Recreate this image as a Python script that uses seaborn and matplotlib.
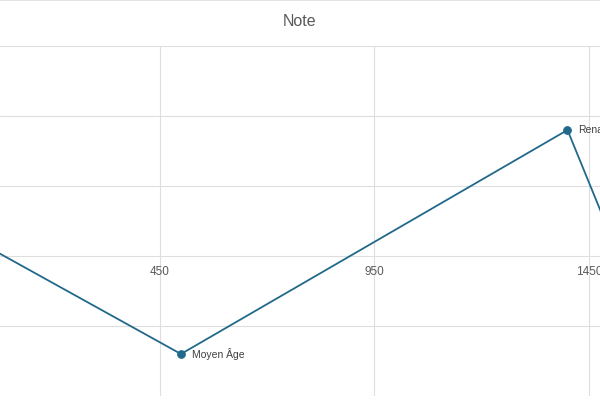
import matplotlib
matplotlib.use("Agg")
import matplotlib.pyplot as plt
from matplotlib.lines import Line2D
import seaborn as sns
import pandas as pd

# Periods, their reference year and the score given to each
periods = ["Antiquité", "Moyen Âge", "Renaissance", "Époque moderne"]
years = [-500, 500, 1400, 1600]
notes = [2.0, -1.4, 1.8, -1.2]
x_ticks = [450, 950, 1450]
title = "Note"

line_color = "#21698a"
grid_color = "#dedede"
text_color = "#595959"

sns.set_theme(style="white")
plt.rcParams["font.family"] = ["Liberation Sans", "DejaVu Sans"]

df = pd.DataFrame({"periode": periods, "annee": years, "note": notes})

fig = plt.figure(figsize=(6.0, 4.03), dpi=100)
ax = fig.add_axes([0.0, 1 - 396 / 403, 1.0, (396 - 46) / 403])

sns.lineplot(data=df, x="annee", y="note", sort=False, color=line_color,
             linewidth=1.3, marker="o", markersize=5.5,
             markeredgecolor=line_color, ax=ax)

ax.set_xlim(78.6, 1475.7)
ax.set_ylim(-2, 3)
ax.set_xticks(x_ticks)
ax.set_xticklabels([str(t) for t in x_ticks])
ax.set_yticks([-2, -1, 0, 1, 2, 3])
ax.set_yticklabels([])
ax.set_xlabel("")
ax.set_ylabel("")

ax.grid(True, color=grid_color, linewidth=0.8)
ax.set_axisbelow(True)
for s in ax.spines.values():
    s.set_visible(False)
ax.spines["bottom"].set_position(("data", 0))
ax.tick_params(axis="x", length=0, pad=7, labelsize=8.5, labelcolor=text_color)
ax.tick_params(axis="y", length=0)

for p, x, y in zip(periods, years, notes):
    ax.annotate(p, (x, y), xytext=(8, 0), textcoords="offset points",
                va="center", ha="left", fontsize=7.5, color="#404040")

fig.text(0.5, 1 - 21 / 403, title, ha="center", va="center",
         fontsize=11.5, color=text_color)
fig.add_artist(Line2D([0, 1], [0.999, 0.999], transform=fig.transFigure,
                      color=grid_color, linewidth=1.2))

fig.savefig("out.png", dpi=100)
